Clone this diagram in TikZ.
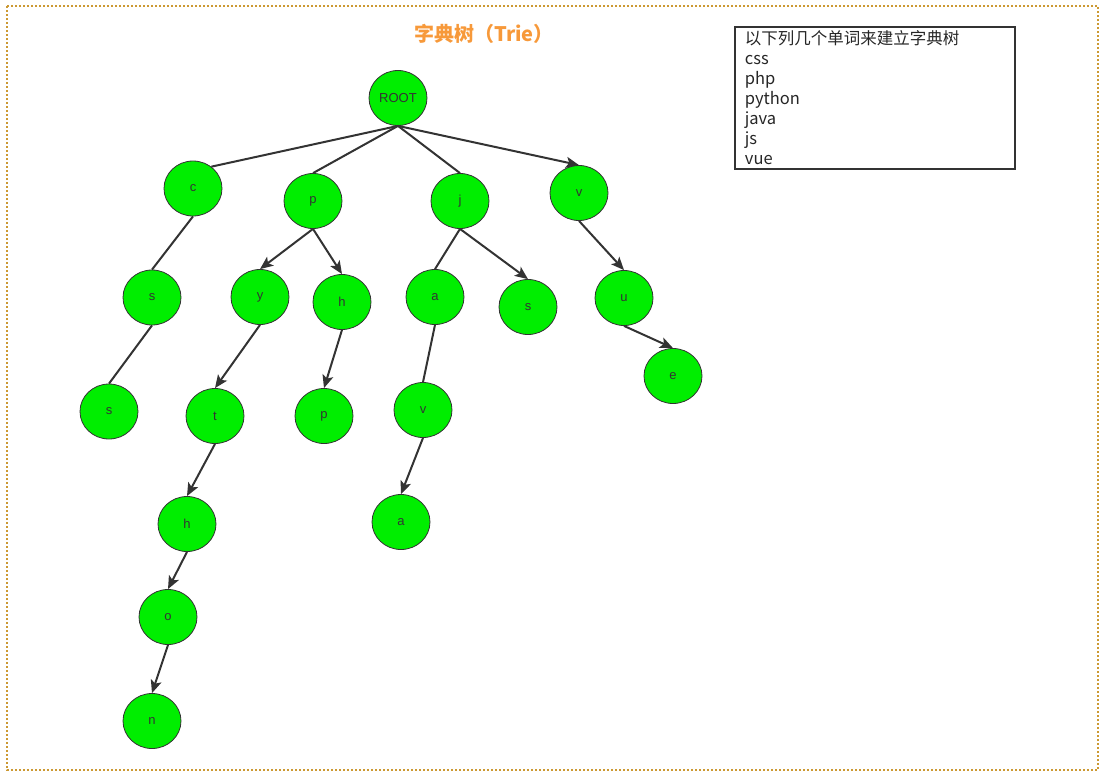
\documentclass[tikz,border=0pt]{standalone}
\usepackage{fontspec}
\setmainfont{Liberation Sans}
\newfontfamily\cjk{Noto Sans CJK SC}
\usepackage{tikz}
\usetikzlibrary{arrows.meta,positioning,shapes.geometric}
\definecolor{triegreen}{HTML}{00EE00}
\definecolor{triedark}{HTML}{333333}
\definecolor{trieorange}{HTML}{F7993A}
\definecolor{trieframe}{HTML}{CC9933}

\begin{document}
\begin{tikzpicture}[
  x=1pt, y=-1pt, on grid,
  letter/.style={ellipse, draw=triedark, line width=0.8pt, fill=triegreen, minimum width=58pt, minimum height=55pt, inner sep=0pt, font=\fontsize{13}{15}\selectfont, text=triedark},
  link/.style={line width=2pt, draw=triedark},
  arrow/.style={link, -{Stealth[length=13pt,width=11pt,inset=3pt]}},
  heading/.style={font=\cjk\bfseries\fontsize{20}{24}\selectfont, text=trieorange},
  wordlist/.style={draw=triedark, line width=1.8pt, align=left, anchor=north west, minimum width=280pt, minimum height=142pt, text width=260pt, inner xsep=10pt, font=\cjk\fontsize{16.5}{20}\selectfont, text=black!85}
]
\useasboundingbox (0,0) rectangle (1108,774);
\draw[trieframe, line width=1.5pt, dash pattern=on 2pt off 2pt] (7,6) rectangle (1098,770);

\node[heading] (title) at (484,34) {字典树（Trie）};
\node[wordlist] (words) at (734,26) {以下列几个单词来建立字典树\\css\\php\\python\\java\\js\\vue};

\node[letter] (root) at (398,98) {ROOT};
\node[letter, below left=90.5pt and 205pt of root] (c) {c};
\node[letter, below left=103pt and 85pt of root] (p) {p};
\node[letter, below right=103pt and 62pt of root] (j) {j};
\node[letter, below right=95pt and 181pt of root] (v) {v};
\node[letter, below left=109pt and 41pt of c] (cs) {s};
\node[letter, below left=114pt and 43pt of cs] (css) {s};
\node[letter, below left=96pt and 53pt of p] (py) {y};
\node[letter, below right=101pt and 29pt of p] (ph) {h};
\node[letter, below left=119pt and 45pt of py] (pyt) {t};
\node[letter, below left=114pt and 18pt of ph] (php) {p};
\node[letter, below left=108pt and 28pt of pyt] (pyth) {h};
\node[letter, below left=93pt and 19pt of pyth] (pytho) {o};
\node[letter, below left=104pt and 16pt of pytho] (python) {n};
\node[letter, below left=96pt and 25pt of j] (ja) {a};
\node[letter, below right=106pt and 68pt of j] (js) {s};
\node[letter, below left=113pt and 12pt of ja] (jav) {v};
\node[letter, below left=112pt and 22pt of jav] (java) {a};
\node[letter, below right=105pt and 45pt of v] (vu) {u};
\node[letter, below right=78pt and 49pt of vu] (vue) {e};

\draw[link] (root.south) -- (c.50);
\draw[link] (root.south) -- (p.north);
\draw[link] (root.south) -- (j.north);
\draw[arrow] (root.south) -- (v.north);
\draw[link] (c.south) -- (cs.north);
\draw[link] (cs.south) -- (css.north);
\draw[arrow] (p.south) -- (py.north);
\draw[arrow] (p.south) -- (ph.north);
\draw[arrow] (py.south) -- (pyt.north);
\draw[arrow] (ph.south) -- (php.north);
\draw[arrow] (pyt.south) -- (pyth.north);
\draw[arrow] (pyth.south) -- (pytho.north);
\draw[arrow] (pytho.south) -- (python.north);
\draw[link] (j.south) -- (ja.north);
\draw[arrow] (j.south) -- (js.north);
\draw[link] (ja.south) -- (jav.north);
\draw[arrow] (jav.south) -- (java.north);
\draw[arrow] (v.south) -- (vu.north);
\draw[arrow] (vu.south) -- (vue.north);
\end{tikzpicture}
\end{document}
